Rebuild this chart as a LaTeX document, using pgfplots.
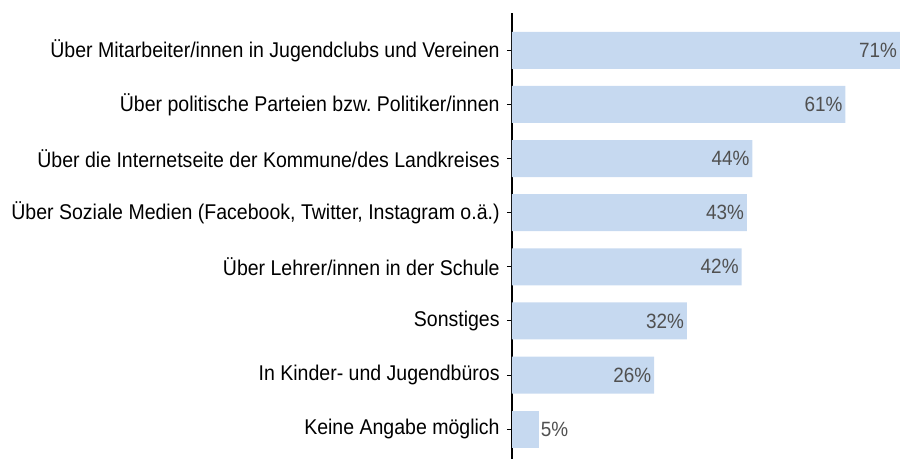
\documentclass[border=0pt]{standalone}
\usepackage{pgfplots}
\usepackage{pgfplotstable}
\usepackage{fontspec}
\setmainfont[FakeStretch=0.915]{Liberation Sans}
\pgfplotsset{compat=1.18}
\frenchspacing
\definecolor{barblue}{HTML}{C6D9F0}
\definecolor{valgray}{HTML}{505050}
\pgfplotstableread{
y val
1 26
2 32
3 42
4 43
5 44
6 61
7 71
}\datatab
\pgfplotstableread{
y val
0 5
}\smalltab
\begin{document}
\begin{tikzpicture}
\begin{axis}[
  at={(0,0)}, anchor=south west,
  scale only axis,
  width=291pt, height=334.5pt,
  xmin=0, xmax=71,
  ymin=-0.55, ymax=7.69,
  axis x line=none,
  axis y line*=left,
  y axis line style={line width=1.4pt, -},
  ytick={0,...,7},
  yticklabels={Keine Angabe möglich, In Kinder- und Jugendbüros, Sonstiges, Über Lehrer/innen in der Schule, {Über Soziale Medien (Facebook, Twitter, Instagram o.ä.)}, Über die Internetseite der Kommune/des Landkreises, Über politische Parteien bzw.\ Politiker/innen, Über Mitarbeiter/innen in Jugendclubs und Vereinen},
  yticklabel style={font=\fontsize{16}{18}\selectfont, text=black, xshift=-2pt},
  tick align=outside,
  major tick length=3.75pt,
  ytick style={black, line width=0.75pt},
  xbar,
  bar width=0.684,
  bar shift=0pt,
  /pgf/number format/assume math mode=true,
  nodes near coords={\pgfmathprintnumber{\pgfplotspointmeta}\%},
  point meta=x,
  clip=false,
]
\addplot[fill=barblue, draw=none, nodes near coords style={anchor=east, font=\fontsize{15.5}{18}\selectfont, text=valgray, inner sep=2pt}] table[x=val, y=y] {\datatab};
\addplot[fill=barblue, draw=none, nodes near coords style={anchor=west, font=\fontsize{15.5}{18}\selectfont, text=valgray, inner sep=1pt}] table[x=val, y=y] {\smalltab};
\end{axis}
\pgfresetboundingbox
\path[use as bounding box] (-384pt,0) rectangle (291pt,344.25pt);
\end{tikzpicture}
\end{document}
